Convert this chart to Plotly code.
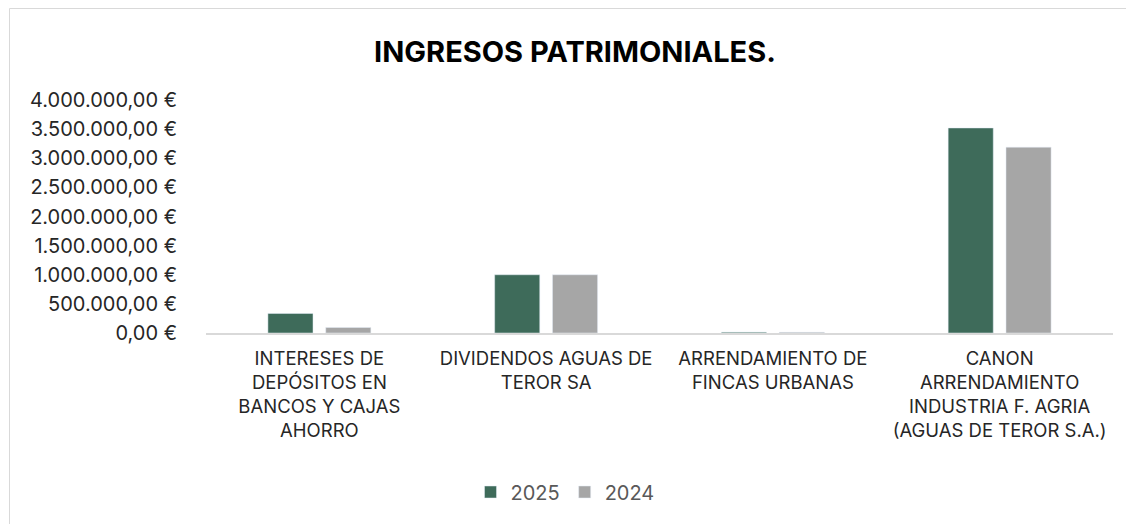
import plotly.graph_objects as go

# Categories and values
categorias = [
    "INTERESES DE<br>DEPÓSITOS EN<br>BANCOS Y CAJAS<br>AHORRO",
    "DIVIDENDOS AGUAS DE<br>TEROR SA",
    "ARRENDAMIENTO DE<br>FINCAS URBANAS",
    "CANON<br>ARRENDAMIENTO<br>INDUSTRIA F. AGRIA<br>(AGUAS DE TEROR S.A.)",
]
valores_2025 = [335000, 1000000, 15000, 3520000]
valores_2024 = [95000, 1000000, 12000, 3190000]

tick_vals = [0, 500000, 1000000, 1500000, 2000000, 2500000, 3000000, 3500000, 4000000]
tick_text = ["0,00 €", "500.000,00 €", "1.000.000,00 €", "1.500.000,00 €",
             "2.000.000,00 €", "2.500.000,00 €", "3.000.000,00 €",
             "3.500.000,00 €", "4.000.000,00 €"]

W, H = 1126, 516          # page body adds an 8px offset
L, R, T, B = 198, 21, 92, 191
pw, ph = W - L - R, H - T - B

data = [
    go.Bar(x=categorias, y=valores_2025, name="2025", marker_color="#3e6b5a"),
    go.Bar(x=categorias, y=valores_2024, name="2024", marker_color="#a6a6a6"),
]

layout = go.Layout(
    width=W, height=H,
    margin=dict(l=L, r=R, t=T, b=B),
    paper_bgcolor="white", plot_bgcolor="white",
    font=dict(family="Inter, Open Sans, sans-serif", size=18, color="#262626"),
    title=dict(text="<b>INGRESOS PATRIMONIALES.</b>", x=567 / W, xanchor="center",
               y=1 - 44 / H, yanchor="middle", font=dict(size=29, color="#000000")),
    barmode="group", bargap=0.49, bargroupgap=0.22,
    xaxis=dict(showline=True, linecolor="#d9d9d9", linewidth=1.5,
               showgrid=False, tickfont=dict(size=18.5, color="#262626"),
               ticks="", ticklabelstandoff=8),
    yaxis=dict(range=[0, 4000000], tickvals=tick_vals, ticktext=tick_text,
               showgrid=False, zeroline=False, showline=False,
               tickfont=dict(size=20, color="#262626"), ticklabelstandoff=28),
    legend=dict(orientation="h", x=(557 - L) / pw, xanchor="center",
                y=(ph - (484 - T)) / ph, yanchor="middle",
                font=dict(size=20, color="#595959")),
    shapes=[dict(type="rect", xref="paper", yref="paper",
                 x0=(1.5 - L) / pw, x1=1.2, y0=-1.5, y1=(ph + T - 0.5) / ph,
                 line=dict(color="#d9d9d9", width=1), layer="below")],
)

fig = go.Figure(data=data, layout=layout)
fig.write_html("out.html")
